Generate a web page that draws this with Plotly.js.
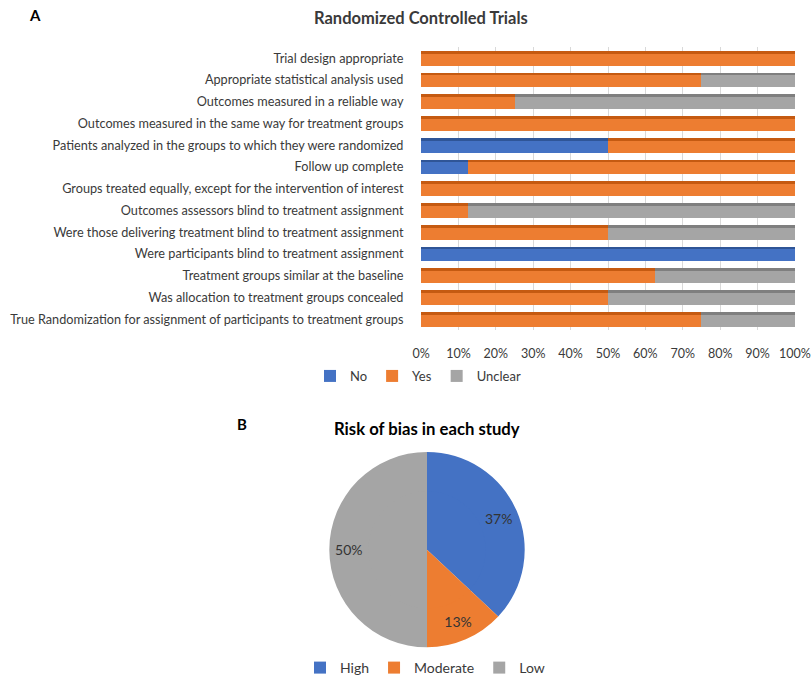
<!DOCTYPE html>
<html>
<head>
<meta charset="utf-8">
<script src="https://cdn.plot.ly/plotly-3.0.1.min.js"></script>
<style>html,body{margin:0;padding:0;background:#fff}#chart{width:812px;height:684px}</style>
</head>
<body>
<div id="chart"></div>
<script>
const categories = [
  "Trial design appropriate",
  "Appropriate statistical analysis used",
  "Outcomes measured in a reliable way",
  "Outcomes measured in the same way for treatment groups",
  "Patients analyzed in the groups to which they were randomized",
  "Follow up complete",
  "Groups treated equally, except for the intervention of interest",
  "Outcomes assessors blind to treatment assignment",
  "Were those delivering treatment blind to treatment assignment",
  "Were participants blind to treatment assignment",
  "Treatment groups similar at the baseline",
  "Was allocation to treatment groups concealed",
  "True Randomization for assignment of participants to treatment groups"
];
const noVals      = [0, 0, 0, 0, 0.5, 0.125, 0, 0, 0, 1, 0, 0, 0];
const yesVals     = [1, 0.75, 0.25, 1, 0.5, 0.875, 1, 0.125, 0.5, 0, 0.625, 0.5, 0.75];
const unclearVals = [0, 0.25, 0.75, 0, 0, 0, 0, 0.875, 0.5, 0, 0.375, 0.5, 0.25];
const seriesNames = ["No", "Yes", "Unclear"];
const xTickVals = [0, 0.1, 0.2, 0.3, 0.4, 0.5, 0.6, 0.7, 0.8, 0.9, 1];

const pieLabels = ["High", "Moderate", "Low"];
const pieValues = [37, 13, 50];

const colors = ["#4472C4", "#ED7D31", "#A5A5A5"];
const topColors = ["#2F5597", "#C55A11", "#7F7F7F"];
const W = 812, H = 684;
const px = v => v / W, py = v => 1 - v / H;
const FONT = "Lato, 'Open Sans', sans-serif";
const TXT = "#3a3a3a";

const seriesVals = [noVals, yesVals, unclearVals];
const traces = [];
// front faces
seriesVals.forEach((vals, i) => {
  traces.push({type: "bar", orientation: "h", name: seriesNames[i], y: categories, x: vals,
    width: 0.68, offset: -0.34,
    marker: {color: colors[i], line: {width: 0}}, legend: "legend",
    xaxis: "x", yaxis: "y", hoverinfo: "x+y"});
});
// darker top faces (3-D look), stacked on an overlaying axis
seriesVals.forEach((vals, i) => {
  traces.push({type: "bar", orientation: "h", name: seriesNames[i] + " top", y: categories, x: vals,
    width: 0.13, offset: -0.34,
    marker: {color: topColors[i], line: {width: 0}}, showlegend: false,
    xaxis: "x", yaxis: "y2", hoverinfo: "skip"});
});
// pie: centre part without text, outer ring carrying the labels
const cx = 427, cy = 557, R = 99, HOLE = 0.6, rin = R * HOLE + 1.5;
traces.push({type: "pie", labels: pieLabels, values: pieValues, sort: false,
  direction: "clockwise", rotation: 0,
  marker: {colors: colors, line: {width: 0}},
  textinfo: "none", hoverinfo: "skip", showlegend: false,
  domain: {x: [px(cx - rin), px(cx + rin)], y: [py(cy + rin), py(cy - rin)]},
  legend: "legend2"});
traces.push({type: "pie", labels: pieLabels, values: pieValues, sort: false,
  direction: "clockwise", rotation: 0, hole: HOLE,
  marker: {colors: colors, line: {width: 0}},
  textinfo: "percent", texttemplate: "%{percent:.0%}",
  textposition: "inside", insidetextorientation: "horizontal",
  textfont: {family: FONT, size: 14, color: "#333"},
  domain: {x: [px(cx - R), px(cx + R)], y: [py(cy + R), py(cy - R)]},
  legend: "legend2"});

const yDomain = [py(334.5), py(48)];
const layout = {
  width: W, height: H,
  margin: {l: 0, r: 0, t: 0, b: 0},
  paper_bgcolor: "#fff", plot_bgcolor: "rgba(0,0,0,0)",
  barmode: "stack",
  font: {family: FONT, color: TXT, size: 13},
  showlegend: true,
  xaxis: {
    domain: [px(421), px(795)], range: [-0.0001, 1.0001],
    tickvals: xTickVals, tickformat: ".0%", ticklabeloverflow: "allow",
    showgrid: true, gridcolor: "#d9d9d9", gridwidth: 1,
    zeroline: false, showline: false,
    ticks: "outside", ticklen: 12, tickcolor: "rgba(0,0,0,0)",
    tickfont: {family: FONT, size: 12.5, color: TXT},
    fixedrange: true
  },
  yaxis: {
    domain: yDomain, autorange: "reversed",
    showgrid: false, zeroline: false, showline: false,
    ticks: "outside", ticklen: 14, tickcolor: "rgba(0,0,0,0)",
    tickfont: {family: FONT, size: 12.7, color: TXT},
    fixedrange: true
  },
  yaxis2: {
    domain: yDomain, overlaying: "y", autorange: "reversed", matches: "y",
    showgrid: false, zeroline: false, showline: false, showticklabels: false,
    fixedrange: true
  },
  legend: {
    orientation: "h", traceorder: "normal",
    x: px(418), y: py(381), yanchor: "middle", xanchor: "center",
    font: {family: FONT, size: 13, color: TXT},
    itemwidth: 30, bgcolor: "rgba(0,0,0,0)"
  },
  legend2: {
    orientation: "h", traceorder: "normal",
    x: px(425), y: py(677), yanchor: "middle", xanchor: "center",
    font: {family: FONT, size: 14, color: TXT},
    itemwidth: 30, bgcolor: "rgba(0,0,0,0)"
  },
  annotations: [
    {text: "<b>Randomized Controlled Trials</b>", xref: "paper", yref: "paper",
     x: px(421), y: py(18), xanchor: "center", yanchor: "middle", showarrow: false,
     font: {family: FONT, size: 16.5, color: TXT}},
    {text: "<b>A</b>", xref: "paper", yref: "paper",
     x: px(35), y: py(15), xanchor: "center", yanchor: "middle", showarrow: false,
     font: {family: FONT, size: 15, color: "#000"}},
    {text: "<b>Risk of bias in each study</b>", xref: "paper", yref: "paper",
     x: px(427), y: py(435), xanchor: "center", yanchor: "middle", showarrow: false,
     font: {family: FONT, size: 16.7, color: "#000"}},
    {text: "<b>B</b>", xref: "paper", yref: "paper",
     x: px(242), y: py(430), xanchor: "center", yanchor: "middle", showarrow: false,
     font: {family: FONT, size: 15, color: "#000"}}
  ]
};

Plotly.newPlot("chart", traces, layout, {displayModeBar: false, staticPlot: true});
</script>
</body>
</html>
